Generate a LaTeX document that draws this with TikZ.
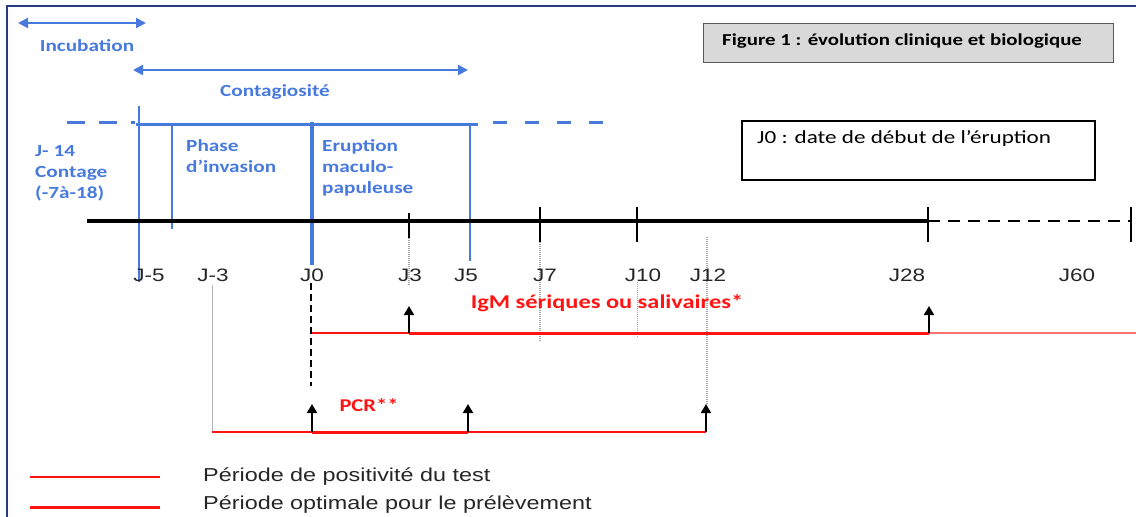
\documentclass[tikz,border=0pt]{standalone}
\usepackage{fontspec}
\usetikzlibrary{arrows.meta}
\newfontfamily\calfont{Carlito}[FakeStretch=1.25]
\newfontfamily\arifont{Liberation Sans}[FakeStretch=1.25]
\definecolor{bl}{RGB}{72,122,222}
\definecolor{framecol}{RGB}{40,60,130}
\definecolor{rd}{RGB}{255,20,20}
\definecolor{boxgray}{RGB}{217,217,217}
\tikzset{
  bluetxt/.style={text=bl,font=\calfont\bfseries\fontsize{17}{21}\selectfont,inner sep=0pt,align=left},
  jlab/.style={font=\arifont\fontsize{18}{20}\selectfont,inner sep=0pt,text=black!85},
  redtxt/.style={text=rd,font=\calfont\bfseries\fontsize{19.5}{22}\selectfont,inner sep=0pt},
  legtxt/.style={font=\arifont\fontsize{18.7}{22}\selectfont,inner sep=0pt,text=black!85,anchor=west},
  bline/.style={draw=bl,line width=3pt},
  barrow/.style={draw=bl,line width=2pt},
  tick/.style={draw=black,line width=1.5pt},
  gdot/.style={draw=gray!70,line width=2pt,dash pattern=on 1pt off 1pt},
  upar/.style={draw=black,line width=1.8pt,-{Triangle[length=9pt,width=10pt]}},
  thinred/.style={draw=rd,line width=1.5pt},
  thickred/.style={draw=rd,line width=3pt},
}
\begin{document}
\begin{tikzpicture}[x=1pt,y=-1pt]
\useasboundingbox (0,0) rectangle (1136,517);
% frame
\coordinate (fTL) at (7,6);
\coordinate (fTR) at (1136,6);
\coordinate (fBL) at (7,517);
\draw[framecol,line width=1.5pt] (fBL) -- (fTL) -- (fTR);

% title boxes
\node[draw=gray!70!black,fill=boxgray,line width=1pt,minimum width=410pt,minimum height=39pt,inner sep=0pt] (fig) at (908,42.5) {};
\node[font=\calfont\bfseries\fontsize{16.7}{18}\selectfont,inner sep=0pt,anchor=west] (figt) at (722,41) {Figure 1 : évolution clinique et biologique};
\node[draw=black,line width=1.5pt,minimum width=353pt,minimum height=59pt,inner sep=0pt] (j0box) at (918.5,150.5) {};
\node[font=\calfont\fontsize{18.5}{20}\selectfont,inner sep=0pt,anchor=west] (j0t) at (757,138) {J0 : date de début de l’éruption};

% incubation / contagiosite arrows
\coordinate (incL) at (18,23);
\coordinate (incR) at (146,23);
\draw[barrow,{Triangle[length=10pt,width=10pt]}-{Triangle[length=10pt,width=10pt]}] (incL) -- (incR);
\node[bluetxt] (inc) at (87,46) {Incubation};
\coordinate (conL) at (133,70);
\coordinate (conR) at (468,70);
\draw[barrow,{Triangle[length=10pt,width=10pt]}-{Triangle[length=10pt,width=10pt]}] (conL) -- (conR);
\node[bluetxt] (con) at (275,92) {Contagiosité};

% blue phase lines
\coordinate (dA) at (67,122);
\coordinate (dB) at (135,122);
\coordinate (sA) at (136,124);
\coordinate (sB) at (478,124);
\coordinate (dC) at (493,122);
\coordinate (dD) at (610,122);
\draw[bline,dash pattern=on 18pt off 14pt] (dA) -- (dB);
\draw[bline] (sA) -- (sB);
\draw[bline,dash pattern=on 14pt off 18pt] (dC) -- (dD);
\coordinate (v1a) at (139,106);
\coordinate (v1b) at (139,282);
\coordinate (v2a) at (172,124);
\coordinate (v2b) at (172,229);
\coordinate (v3a) at (312,122);
\coordinate (v3b) at (312,265);
\coordinate (v4a) at (470,124);
\coordinate (v4b) at (470,261);
\draw[bline,line width=2.5pt] (v1a) -- (v1b);
\draw[bline,line width=2.5pt] (v2a) -- (v2b);
\draw[bline,line width=3.5pt] (v3a) -- (v3b);
\draw[bline,line width=2.5pt] (v4a) -- (v4b);

\node[bluetxt,anchor=west] (contage) at (35,173) {J- 14\\Contage\\(-7à-18)};
\node[bluetxt,anchor=north west] (phase) at (186,139) {Phase\\d’invasion};
\node[bluetxt,anchor=north west] (erup) at (322,139) {Eruption\\maculo-\\papuleuse};

% axis
\coordinate (ax0) at (87,221);
\coordinate (ax28) at (928,221);
\coordinate (ax60) at (1131,221);
\draw[black,line width=3.5pt] (ax0) -- (ax28);
\draw[black,line width=2pt,dash pattern=on 12pt off 8pt] (ax28) -- (ax60);
\foreach \n/\x/\a/\b in {t3/409/213/238,t7/540/207/242,t10/637/207/242,t28/928/207/242,t60/1131/207/242}{
  \coordinate (\n a) at (\x,\a);
  \coordinate (\n b) at (\x,\b);
  \draw[tick] (\n a) -- (\n b);
}
% grey dotted lines
\coordinate (g3a) at (409,238); \coordinate (g3b) at (409,285);
\coordinate (g7a) at (540,242); \coordinate (g7b) at (540,342);
\coordinate (g10a) at (637,282); \coordinate (g10b) at (637,338);
\coordinate (g12a) at (707,237); \coordinate (g12b) at (707,405);
\draw[gdot] (g3a) -- (g3b);
\draw[gdot] (g7a) -- (g7b);
\draw[gdot,line width=1pt] (g10a) -- (g10b);
\draw[gdot] (g12a) -- (g12b);

% day labels
\foreach \n/\x/\t in {lm5/149/J-5,lm3/213/J-3,l0/312/J0,l3/410/J3,l5/466/J5,l7/545/J7,l10/643/J10,l12/708/J12,l28/907/J28,l60/1077/J60}{
  \node[jlab] (\n) at (\x,275) {\t};
}

% grey line from J-3 and black dashed from J0
\coordinate (gA) at (212,285);
\coordinate (gB) at (212,433);
\draw[gray!60,line width=1pt] (gA) -- (gB);
\coordinate (kA) at (311,283);
\coordinate (kB) at (311,386);
\draw[black,line width=2pt,dash pattern=on 7pt off 4pt] (kA) -- (kB);

% IgM line
\coordinate (i0) at (312,333);
\coordinate (i3) at (409,333);
\coordinate (i28) at (929,333);
\coordinate (iE) at (1136,333);
\draw[thinred] (i0) -- (i3);
\draw[thickred] (i3) -- (i28);
\draw[thinred,draw=rd!60] (i28) -- (iE);
\coordinate (i3u) at (409,306);
\coordinate (i28u) at (929,306);
\draw[upar] (i3) -- (i3u);
\draw[upar] (i28) -- (i28u);
\node[redtxt] (igm) at (607,303) {IgM sériques ou salivaires*};

% PCR line
\coordinate (p0) at (212,432);
\coordinate (p1) at (312,432);
\coordinate (p2) at (468,432);
\coordinate (p3) at (706,432);
\draw[thinred] (p0) -- (p1);
\draw[thickred] (p1) -- (p2);
\draw[thinred] (p2) -- (p3);
\coordinate (p1u) at (312,404);
\coordinate (p2u) at (468,404);
\coordinate (p3u) at (706,404);
\draw[upar] (p1) -- (p1u);
\draw[upar] (p2) -- (p2u);
\draw[upar] (p3) -- (p3u);
\node[redtxt,font=\calfont\bfseries\fontsize{18}{20}\selectfont] (pcr) at (369,405) {PCR**};

% legend
\coordinate (L1a) at (30,477); \coordinate (L1b) at (160,477);
\coordinate (L2a) at (30,507); \coordinate (L2b) at (160,507);
\draw[thinred] (L1a) -- (L1b);
\draw[thickred] (L2a) -- (L2b);
\node[legtxt] (leg1) at (203,477) {Période de positivité du test};
\node[legtxt] (leg2) at (203,505) {Période optimale pour le prélèvement};
\end{tikzpicture}
\end{document}
